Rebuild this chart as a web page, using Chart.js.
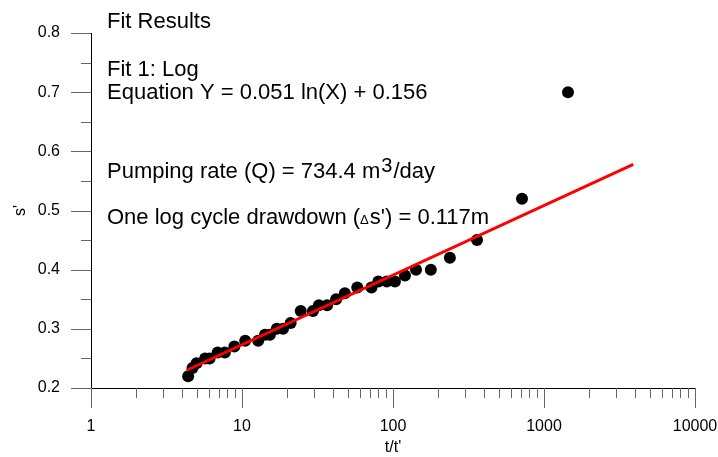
<!DOCTYPE html>
<html>
<head>
<meta charset="utf-8">
<script src="https://cdn.jsdelivr.net/npm/chart.js@4.4.1/dist/chart.umd.min.js"></script>
<style>
  html, body { margin: 0; padding: 0; background: #fff; }
  #wrap { width: 718px; height: 457px; }
</style>
</head>
<body>
<div id="wrap"><canvas id="fitChart" width="718" height="457"></canvas></div>
<script>
// recovery data (t/t' vs residual drawdown s')
const ratioT = [4.4, 4.7, 5.0, 5.7, 6.1, 6.9, 7.7, 8.9, 10.5, 12.8, 14.2, 15.3, 17, 18.7, 21,
  24.5, 29.5, 32.3, 36.6, 42, 48, 58, 72, 80, 91, 103, 120, 142, 178, 238, 360, 715, 1442];
const drawdown = [0.22, 0.234, 0.242, 0.25, 0.25, 0.26, 0.26, 0.27, 0.28, 0.28, 0.29, 0.29, 0.30, 0.30, 0.31,
  0.33, 0.33, 0.34, 0.34, 0.35, 0.36, 0.37, 0.37, 0.38, 0.38, 0.38, 0.39, 0.40, 0.40, 0.42, 0.45, 0.52, 0.70];

// ends of the fitted log line
const fitT = [4.3, 3900];
const fitS = [0.230, 0.578];

const xTickValues = [1, 2, 3, 4, 5, 6, 7, 8, 9, 10, 20, 30, 40, 50, 60, 70, 80, 90,
  100, 200, 300, 400, 500, 600, 700, 800, 900, 1000, 2000, 3000, 4000, 5000, 6000, 7000, 8000, 9000, 10000];
const xMajor = [1, 10, 100, 1000, 10000];
const yTickValues = [0.2, 0.25, 0.3, 0.35, 0.4, 0.45, 0.5, 0.55, 0.6, 0.65, 0.7, 0.75, 0.8];
const yMajor = [0.2, 0.3, 0.4, 0.5, 0.6, 0.7, 0.8];

const FONT = '"Liberation Sans", Arial, sans-serif';

// hand-drawn axis lines and tick marks (major long, minor short)
const axesPlugin = {
  id: 'axesPlugin',
  afterDraw(chart) {
    const ctx = chart.ctx;
    const xs = chart.scales.x, ys = chart.scales.y;
    const x0 = xs.getPixelForValue(1), x1 = xs.getPixelForValue(10000);
    const y0 = ys.getPixelForValue(0.2), y1 = ys.getPixelForValue(0.8);
    ctx.save();
    ctx.strokeStyle = '#000';
    ctx.lineWidth = 1;
    ctx.beginPath();
    ctx.moveTo(x0 + 0.5, y1);
    ctx.lineTo(x0 + 0.5, y0 + 0.5);
    ctx.lineTo(x1, y0 + 0.5);
    ctx.stroke();

    ctx.strokeStyle = '#666';
    ctx.beginPath();
    xTickValues.forEach(v => {
      const px = Math.round(xs.getPixelForValue(v)) + 0.5;
      const len = xMajor.includes(v) ? 20 : 10;
      ctx.moveTo(px, y0);
      ctx.lineTo(px, y0 + len);
    });
    yTickValues.forEach(v => {
      const py = Math.round(ys.getPixelForValue(v)) + 0.5;
      const major = Math.round(v * 100) % 10 === 0;
      ctx.moveTo(x0, py);
      ctx.lineTo(x0 - (major ? 20 : 10), py);
    });
    ctx.stroke();
    ctx.restore();
  }
};

// fit results text block
const notesPlugin = {
  id: 'notesPlugin',
  afterDraw(chart) {
    const ctx = chart.ctx;
    const left = 107;
    ctx.save();
    ctx.fillStyle = '#000';
    ctx.textBaseline = 'middle';
    ctx.textAlign = 'left';
    ctx.font = '22px ' + FONT;
    ctx.fillText('Fit Results', left, 22);
    ctx.fillText('Fit 1: Log', left, 70);
    ctx.fillText('Equation Y = 0.051 ln(X) + 0.156', left, 93);

    let s = 'Pumping rate (Q) = 734.4 m';
    ctx.fillText(s, left, 172);
    let w = ctx.measureText(s).width;
    ctx.font = '20px ' + FONT;
    ctx.fillText('3', left + w + 1, 166);
    let w3 = ctx.measureText('3').width;
    ctx.font = '22px ' + FONT;
    ctx.fillText('/day', left + w + w3 + 2, 172);

    s = 'One log cycle drawdown (';
    ctx.fillText(s, left, 218);
    w = ctx.measureText(s).width;
    ctx.font = '13px ' + FONT;
    ctx.fillText('\u0394', left + w, 220);
    const wd = ctx.measureText('\u0394').width;
    ctx.font = '22px ' + FONT;
    ctx.fillText("s') = 0.117m", left + w + wd + 1, 218);
    ctx.restore();
  }
};

const points = ratioT.map((t, i) => ({ x: t, y: drawdown[i] }));
const fitLine = fitT.map((t, i) => ({ x: t, y: fitS[i] }));

new Chart(document.getElementById('fitChart').getContext('2d'), {
  type: 'scatter',
  data: {
    datasets: [
      {
        type: 'line',
        label: 'Fit 1: Log',
        data: fitLine,
        borderColor: '#ff0000',
        borderWidth: 3,
        pointRadius: 0,
        fill: false
      },
      {
        label: 'Data',
        data: points,
        backgroundColor: '#000',
        borderWidth: 0,
        pointRadius: 6
      }
    ]
  },
  options: {
    responsive: false,
    animation: false,
    events: [],
    layout: { padding: { left: 0, right: 23, top: 33, bottom: 0 } },
    plugins: {
      legend: { display: false },
      tooltip: { enabled: false }
    },
    scales: {
      x: {
        type: 'logarithmic',
        min: 1,
        max: 10000,
        grid: { display: false, drawTicks: false },
        border: { display: false },
        afterBuildTicks: scale => { scale.ticks = xMajor.map(v => ({ value: v })); },
        afterFit: scale => {
          scale.height = 69;
          scale.paddingLeft = 0;
          scale.paddingRight = 0;
        },
        ticks: {
          padding: 29,
          color: '#000',
          font: { family: FONT, size: 16 },
          maxRotation: 0,
          autoSkip: false,
          callback: v => String(v)
        },
        title: {
          display: true,
          text: "t/t'",
          color: '#000',
          font: { family: FONT, size: 16 },
          padding: { top: 0, bottom: 0 }
        }
      },
      y: {
        min: 0.2,
        max: 0.8,
        grid: { display: false, drawTicks: false },
        border: { display: false },
        afterBuildTicks: scale => { scale.ticks = yMajor.map(v => ({ value: v })); },
        afterFit: scale => {
          scale.width = 91;
          scale.paddingTop = 0;
          scale.paddingBottom = 0;
        },
        ticks: {
          padding: 31,
          color: '#000',
          font: { family: FONT, size: 16 },
          callback: v => v.toFixed(1)
        },
        title: {
          display: true,
          text: "s'",
          color: '#000',
          font: { family: FONT, size: 16 },
          padding: { top: 11, bottom: 0 }
        }
      }
    }
  },
  plugins: [axesPlugin, notesPlugin]
});
</script>
</body>
</html>
